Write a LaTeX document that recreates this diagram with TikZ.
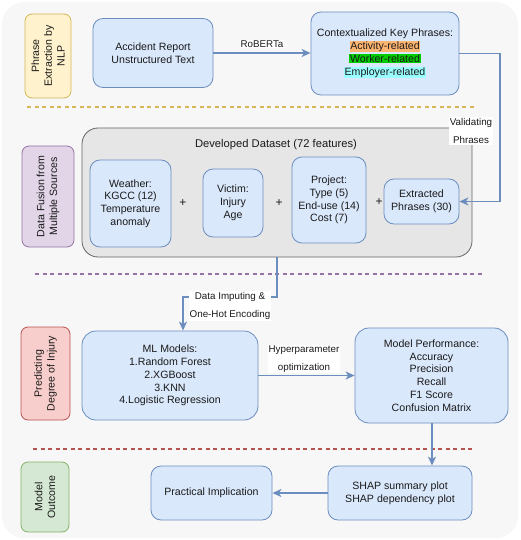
\documentclass[tikz,border=0pt]{standalone}
\usepackage{fontspec}
\setmainfont{Liberation Sans}
\usetikzlibrary{arrows.meta,calc}
\definecolor{bgc}{HTML}{F7F7F7}
\definecolor{bluef}{HTML}{DAE8FC}
\definecolor{blued}{HTML}{6C8EBF}
\definecolor{yelf}{HTML}{FFF2CC}
\definecolor{yeld}{HTML}{D6B656}
\definecolor{purf}{HTML}{E1D5E7}
\definecolor{purd}{HTML}{9673A6}
\definecolor{redf}{HTML}{F8CECC}
\definecolor{redd}{HTML}{B85450}
\definecolor{grnf}{HTML}{D5E8D4}
\definecolor{grnd}{HTML}{82B366}
\definecolor{grayf}{HTML}{E6E6E6}
\definecolor{grayd}{HTML}{666666}
\definecolor{hlor}{HTML}{FFB570}
\definecolor{hlgr}{HTML}{00CC00}
\definecolor{hlcy}{HTML}{99FFFF}
\definecolor{txt}{HTML}{1A1A1A}
\tikzset{
  mainfont/.style={font=\fontsize{10.6}{12.8}\selectfont},
  smallfont/.style={font=\fontsize{9.8}{18}\selectfont},
  sidebox/.style={draw, line width=0.8pt, rounded corners=7pt, align=center, mainfont, rotate=90, inner sep=1pt, text=txt},
  bluebox/.style={draw=blued, fill=bluef, line width=0.8pt, rounded corners=10pt, align=center, mainfont, inner sep=1pt, text=txt},
  arr/.style={draw=blued, line width=1.6pt, -{Stealth[length=9pt,width=8pt,inset=2.5pt]}},
  lbl/.style={fill=white, align=center, smallfont, inner sep=1pt, text=txt},
  sep/.style={line width=1.3pt, dash pattern=on 4pt off 3.5pt},
  plus/.style={font=\fontsize{12}{14}\selectfont, text=txt}
}
\begin{document}
\begin{tikzpicture}[x=1pt,y=-1pt]
\useasboundingbox (0,0) rectangle (520,540);
\fill[bgc, rounded corners=22pt] (2,2) rectangle (518,538);

% separators
\draw[sep, yeld] (27,107) -- (474,107);
\draw[sep, purd] (35,274) -- (483,274);
\draw[sep, redd] (33,449) -- (472,449);

% side labels
\node[sidebox, draw=yeld, fill=yelf, minimum width=84pt, minimum height=46pt] (s1) at (48,56) {Phrase\\Extraction by\\NLP};
\node[sidebox, draw=purd, fill=purf, minimum width=101pt, minimum height=52pt] (s2) at (48,196.5) {Data Fusion from\\Multiple Sources};
\node[sidebox, draw=redd, fill=redf, minimum width=93pt, minimum height=49pt] (s3) at (45.5,373.5) {Predicting\\Degree of Injury};
\node[sidebox, draw=grnd, fill=grnf, minimum width=70pt, minimum height=48pt] (s4) at (45,497) {Model\\Outcome};

% row 1
\node[bluebox, minimum width=120pt, minimum height=69pt] (acc) at (153,53) {Accident Report\\Unstructured Text};
\node[bluebox, minimum width=148pt, minimum height=83pt] (ctx) at (385,53.5) {Contextualized Key Phrases:\\
{\setlength\fboxsep{0.6pt}\colorbox{hlor}{Activity-related}}\\
{\setlength\fboxsep{0.6pt}\colorbox{hlgr}{Worker-related}}\\
{\setlength\fboxsep{0.6pt}\colorbox{hlcy}{Employer-related}}};

% dataset container
\node[draw=grayd, fill=grayf, line width=0.8pt, rounded corners=16pt, minimum width=390pt, minimum height=129pt] (ds) at (277,192.5) {};
\node[font=\fontsize{11.2}{13}\selectfont, text=txt] (dst) at (276,145) {Developed Dataset (72 features)};
\node[bluebox, minimum width=81pt, minimum height=87pt] (wea) at (130.5,203.5) {Weather:\\KGCC (12)\\Temperature\\anomaly};
\node[bluebox, minimum width=60pt, minimum height=68pt] (vic) at (233,203) {Victim:\\Injury\\Age};
\node[bluebox, minimum width=74pt, minimum height=86pt] (prj) at (329,200) {Project:\\Type (5)\\End-use (14)\\Cost (7)};
\node[bluebox, minimum width=75pt, minimum height=45pt] (ext) at (421.5,201.5) {Extracted\\Phrases (30)};
\node[plus] (p1) at (183,203) {+};
\node[plus] (p2) at (279,203) {+};
\node[plus] (p3) at (379,202) {+};

% row 3
\node[bluebox, minimum width=176pt, minimum height=89pt, rounded corners=14pt] (ml) at (170,375.5) {ML Models:\\1.Random Forest\\2.XGBoost\\3.KNN\\4.Logistic Regression};
\node[bluebox, minimum width=153pt, minimum height=95pt, rounded corners=14pt] (perf) at (431.5,375.5) {Model Performance:\\Accuracy\\Precision\\Recall\\F1 Score\\Confusion Matrix};

% row 4
\node[bluebox, minimum width=144pt, minimum height=54pt] (shap) at (400,493) {SHAP summary plot\\SHAP dependency plot};
\node[bluebox, minimum width=121pt, minimum height=54pt] (prac) at (211.5,493) {Practical Implication};

% connectors
\draw[arr] (acc.east) -- (acc.east -| ctx.west) node[lbl, midway, yshift=9pt] (l1) {RoBERTa};
\coordinate (vr) at (500,53.5);
\draw[arr] (ctx.east) -- (ctx.east -| vr) |- (ext.east);
\node[lbl] (l2) at (471,131) {Validating\\Phrases};
\coordinate (j1) at (277,297);
\coordinate (j2) at (183,297);
\draw[arr] (ds.south) -- (j1) -- (j2) -- (j2 |- ml.north);
\node[lbl] (l3) at (230,306) {Data Imputing \&\\One-Hot Encoding};
\draw[arr] (ml.east) -- (ml.east -| perf.west);
\node[lbl] (l4) at (304,359) {Hyperparameter\\optimization};
\coordinate (j3) at (432,423);
\draw[arr] (j3) -- (j3 |- shap.north);
\draw[arr] (shap.west) -- (prac.east);
\end{tikzpicture}
\end{document}
